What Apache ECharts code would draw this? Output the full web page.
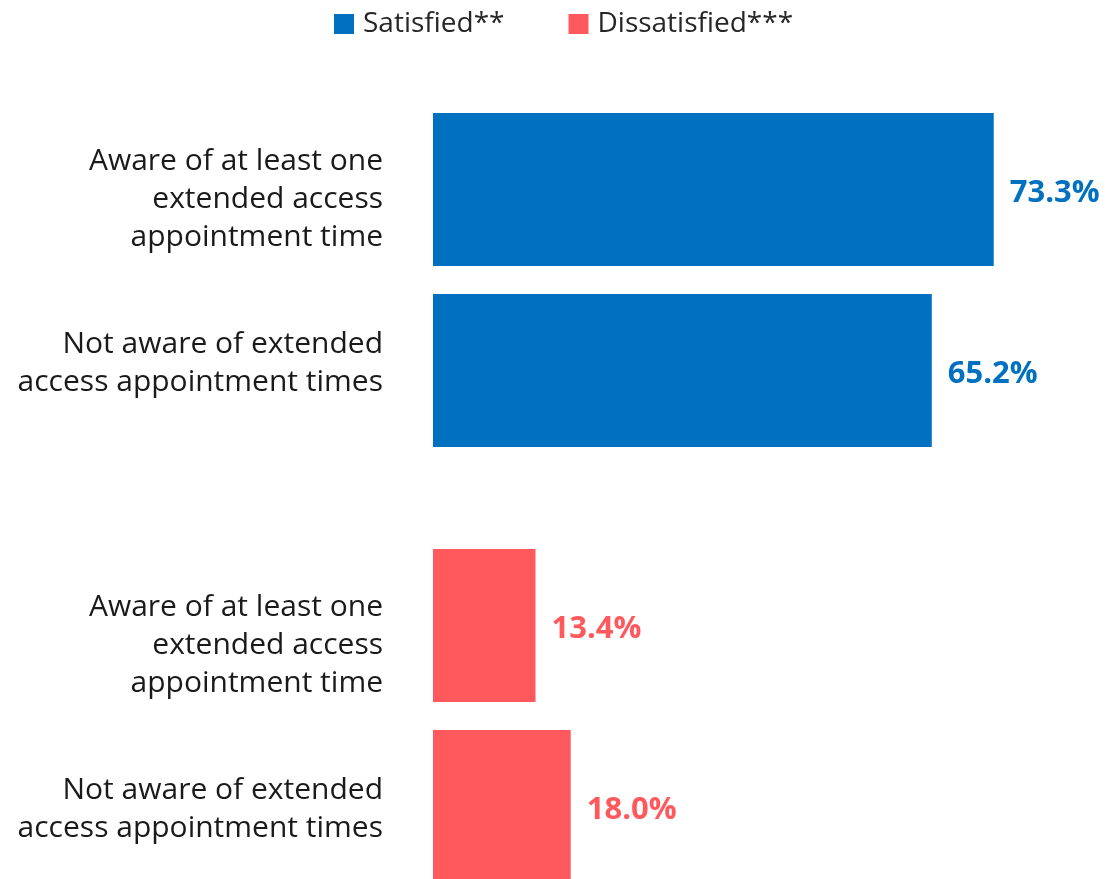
<!DOCTYPE html>
<html>
<head>
<meta charset="utf-8">
<script src="https://cdn.jsdelivr.net/npm/echarts@6/dist/echarts.min.js"></script>
<style>
  html, body { margin: 0; padding: 0; background: #fff; }
  #chart { width: 1120px; height: 879px; }
</style>
</head>
<body>
<div id="chart"></div>
<script>
var categories = [
  'Aware of at least one\nextended access\nappointment time',
  'Not aware of extended\naccess appointment times'
];
var seriesNames = ['Satisfied**', 'Dissatisfied***'];
var satisfied = [73.3, 65.2];
var dissatisfied = [13.4, 18.0];

var font = 'Open Sans';
var blue = '#0070C0';
var red = '#FF595E';

// label blocks in the original are not exactly centred on the bars.
// + : blank line of that height above (pushes text down), - : below (pushes up)
var spacers = [[20, -14], [40, 6]];

function yAxis(idx) {
  var sp = spacers[idx];
  return {
    type: 'category',
    gridIndex: idx,
    data: categories,
    inverse: true,
    axisLine: { show: false },
    axisTick: { show: false },
    axisLabel: {
      margin: 50,
      fontFamily: font,
      fontSize: 30,
      lineHeight: 38,
      color: '#1a1a1a',
      align: 'right',
      formatter: function (v, i) {
        if (sp[i] > 0) return '{s' + i + '| }\n' + v;
        return v + '\n{s' + i + '| }';
      },
      rich: {
        s0: { fontSize: 4, lineHeight: Math.abs(sp[0]) },
        s1: { fontSize: 4, lineHeight: Math.abs(sp[1]) }
      }
    }
  };
}

function xAxis(idx) {
  return {
    type: 'value',
    gridIndex: idx,
    min: 0,
    max: 80,
    show: false
  };
}

function barSeries(name, data, idx, color) {
  return {
    name: name,
    type: 'bar',
    xAxisIndex: idx,
    yAxisIndex: idx,
    data: data,
    barWidth: 153,
    itemStyle: { color: color },
    label: {
      show: true,
      position: 'right',
      distance: 16,
      offset: [0, 4],
      formatter: function (p) { return p.value.toFixed(1) + '%'; },
      fontFamily: font,
      fontSize: 31,
      fontWeight: 'bold',
      color: color
    }
  };
}

var option = {
  animation: false,
  legend: {
    top: 10,
    left: 334,
    padding: 0,
    itemWidth: 20,
    itemHeight: 20,
    itemGap: 64,
    icon: 'rect',
    data: seriesNames,
    textStyle: {
      fontFamily: font,
      fontSize: 28,
      color: '#262626',
      padding: [0, 0, 0, 4]
    }
  },
  grid: [
    { left: 433, width: 612, top: 99, height: 362, outerBoundsMode: 'none' },
    { left: 433, width: 612, top: 535, height: 362, outerBoundsMode: 'none' }
  ],
  xAxis: [xAxis(0), xAxis(1)],
  yAxis: [yAxis(0), yAxis(1)],
  series: [
    barSeries(seriesNames[0], satisfied, 0, blue),
    barSeries(seriesNames[1], dissatisfied, 1, red)
  ]
};

echarts.init(document.getElementById('chart')).setOption(option);
</script>
</body>
</html>
